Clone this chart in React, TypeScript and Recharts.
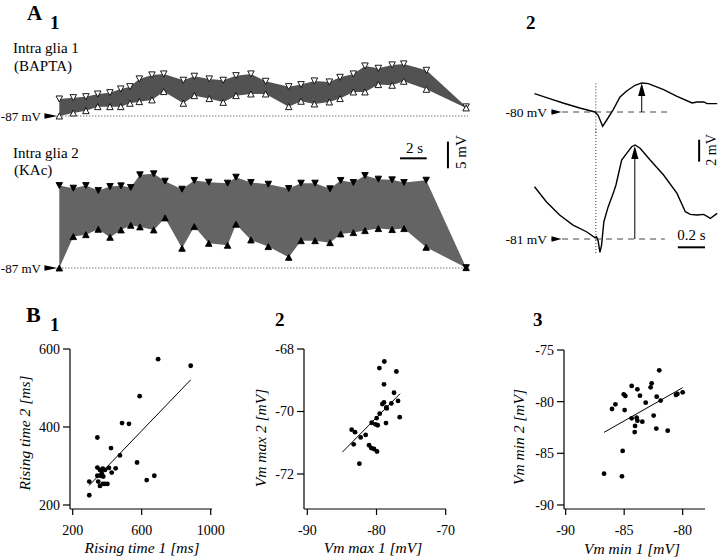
import React from 'react';
import {
  ComposedChart, LineChart, ScatterChart, Area, Line, Scatter,
  XAxis, YAxis, ReferenceLine, ReferenceDot,
} from 'recharts';

const SERIF = '"Liberation Serif", "Times New Roman", Times, serif';

// ---------- Panel A1 : glia 1 (BAPTA), depolarisation above -87 mV, mV vs s ----------
const glia1Time = [0, 1.05, 1.99, 2.88, 3.79, 4.6, 5.29, 5.99, 6.94, 7.82, 9.29, 10.11, 11.23, 12.27, 13.23, 14.35, 15.45, 17.18, 18.1, 19.1, 20.22, 21.02, 22.02, 22.89, 23.89, 24.92, 25.79, 27.49, 30.46];
const glia1Max = [3.19, 3.44, 3.62, 4.12, 4.37, 5.07, 5.5, 6.95, 7.7, 7.88, 6.7, 7.45, 6.95, 6.7, 7.56, 7.88, 6.5, 5.5, 5.88, 6.57, 6.38, 7.25, 7.88, 9.38, 8.94, 9.57, 9.76, 8.56, 1.71];
const glia1Min = [0, 0.56, 1.0, 1.75, 1.75, 1.75, 2.38, 2.69, 3.01, 4.57, 2.38, 3.81, 3.26, 2.56, 3.81, 4.12, 4.12, 1.75, 2.76, 2.25, 2.63, 3.26, 4.5, 4.5, 5.88, 5.75, 6.5, 5.0, 1.51];

// ---------- Panel A1 : glia 2 (KAc) ----------
const glia2Time = [0, 1.05, 1.99, 2.92, 3.8, 4.62, 5.35, 6.04, 7.07, 7.92, 9.19, 10.11, 11.19, 12.6, 13.23, 14.35, 15.65, 17.18, 18.1, 19.15, 20.27, 21.07, 22.02, 22.89, 23.89, 24.92, 25.81, 27.47, 30.46];
const glia2Max = [15.44, 14.95, 15.44, 14.51, 15.26, 15.38, 15.08, 17.45, 17.64, 16.26, 14.76, 16.39, 16.07, 15.89, 17.01, 16.01, 15.69, 14.88, 15.89, 15.89, 14.83, 16.39, 16.01, 17.32, 16.64, 16.51, 16.01, 16.44, 0.07];
const glia2Min = [0, 5.88, 6.25, 7.25, 5.75, 7.13, 8.01, 7.7, 7.13, 9.38, 3.69, 7.75, 4.62, 4.26, 8.2, 5.25, 4.01, 2.0, 5.12, 5.12, 4.75, 6.38, 6.63, 7.0, 7.38, 7.2, 7.38, 3.87, 0.07];

// ---------- Panel A2 : single responses (s, mV relative to rest) ----------
const a2TopTime = [-0.452, -0.341, -0.242, -0.119, -0.007, 0.017, 0.05, 0.079, 0.128, 0.178, 0.227, 0.289, 0.338, 0.387, 0.499, 0.598, 0.709, 0.746, 0.795, 0.82, 0.894];
const a2TopV = [1.67, 1.22, 0.82, 0.36, 0, -0.3, -1.3, -0.75, 0.22, 1.36, 1.91, 2.43, 2.64, 2.58, 2.04, 1.43, 0.82, 0.91, 0.91, 0.76, 0.76];
const a2BotTime = [-0.452, -0.365, -0.267, -0.168, -0.069, -0.007, 0.005, 0.017, 0.03, 0.042, 0.059, 0.091, 0.128, 0.148, 0.165, 0.19, 0.227, 0.264, 0.289, 0.326, 0.4, 0.499, 0.598, 0.659, 0.696, 0.746, 0.795, 0.844, 0.894];
const a2BotV = [4.75, 3.39, 2.18, 1.27, 0.66, 0.12, 0.21, -0.18, -1.21, -0.55, 1.57, 2.94, 4.15, 4.91, 5.82, 7.18, 7.79, 8.39, 8.55, 8.25, 7.18, 5.82, 4.15, 2.48, 2.24, 2.18, 2.24, 1.88, 2.33];

// ---------- Panel B1 : rising times ----------
const riseTime1 = [695, 884, 588, 486, 526, 343, 422, 474, 573, 449, 343, 358, 374, 387, 410, 426, 368, 343, 362, 377, 296, 348, 374, 387, 401, 358, 629, 673, 296];
const riseTime2 = [574, 557, 479, 410, 408, 373, 346, 327, 309, 294, 296, 290, 293, 290, 295, 283, 281, 275, 275, 273, 260, 260, 254, 254, 254, 249, 264, 275, 225];
const riseFit = [{ x: 295, y: 250 }, { x: 884, y: 521 }];

// ---------- Panel B2 : Vm max ----------
const vmMax1 = [-78.87, -79.59, -77.13, -78.92, -77.47, -76.89, -77.86, -78.92, -79.16, -78.58, -78.53, -79.54, -79.98, -76.65, -78.63, -80.7, -80.17, -79.83, -83.59, -83.11, -81.57, -82.29, -83.3, -81.08, -80.75, -80.36, -79.93, -82.48];
const vmMax2 = [-68.4, -68.61, -68.72, -69.13, -69.4, -69.66, -69.74, -69.71, -69.76, -69.87, -69.9, -70.07, -70.21, -70.18, -70.37, -70.36, -70.41, -70.44, -70.58, -70.66, -70.75, -70.83, -71.05, -71.08, -71.17, -71.2, -71.28, -71.67];
const vmMaxFit = [{ x: -84.94, y: -71.3 }, { x: -76.6, y: -69.43 }];

// ---------- Panel B3 : Vm min ----------
const vmMin1 = [-82.0, -82.65, -82.74, -84.36, -83.87, -83.65, -85.04, -84.9, -82.22, -80.57, -80.45, -80.0, -81.88, -83.16, -85.75, -86.04, -84.96, -82.48, -84.36, -83.93, -83.87, -83.45, -84.07, -82.25, -84.1, -81.28, -85.13, -86.72, -85.19];
const vmMin2 = [-76.97, -78.23, -78.61, -78.48, -78.81, -79.42, -79.29, -79.45, -79.52, -79.35, -79.25, -79.1, -79.9, -80.1, -80.26, -80.71, -80.81, -81.35, -81.61, -81.55, -81.84, -81.94, -82.35, -82.61, -82.94, -82.81, -84.77, -86.97, -87.23];
const vmMinFit = [{ x: -86.72, y: -82.97 }, { x: -80.0, y: -78.65 }];

// ---------- shapes ----------
const triPath = (cx: number, cy: number, w: number, h: number, up: boolean) =>
  up
    ? `M${cx - w / 2},${cy + h / 2}L${cx + w / 2},${cy + h / 2}L${cx},${cy - h / 2}Z`
    : `M${cx - w / 2},${cy - h / 2}L${cx + w / 2},${cy - h / 2}L${cx},${cy + h / 2}Z`;

const makeTri = (up: boolean, filled: boolean, w: number, h: number) => (props: any) => {
  const { cx, cy, index } = props;
  const key = `${up ? 'u' : 'd'}${filled ? 'f' : 'o'}${index}`;
  if (cx == null || cy == null) return <g key={key} />;
  return (
    <path key={key} d={triPath(cx, cy, w, h, up)} fill={filled ? '#000' : '#fff'}
      stroke="#000" strokeWidth={0.9} />
  );
};

const openDown = makeTri(false, false, 6.5, 6);
const openUp = makeTri(true, false, 6.5, 6);
const fullDown = makeTri(false, true, 6.5, 6);
const fullUp = makeTri(true, true, 6.5, 6);

const levelArrow = (label: string, len: number, gap: number, fs: number) => (props: any) => {
  const { cx, cy } = props;
  return (
    <g>
      <text x={cx - len - gap} y={cy} dy="0.35em" textAnchor="end" fontFamily={SERIF} fontSize={fs} fill="#000">{label}</text>
      <path d={`M${cx - len},${cy - 2.8}L${cx},${cy}L${cx - len},${cy + 2.8}Z`} fill="#000" />
    </g>
  );
};

const upHead = (props: any) => {
  const { cx, cy } = props;
  return <path d={`M${cx},${cy}L${cx - 3.6},${cy + 13}L${cx + 3.6},${cy + 13}Z`} fill="#000" />;
};

const blackDot = (props: any) => <circle cx={props.cx} cy={props.cy} r={2.4} fill="#000" />;

const noMargin = { top: 0, right: 0, bottom: 0, left: 0 };

// ---------- scatter panel ----------
function ScatterPanel(p: {
  left: number; top: number; plotW: number; plotH: number;
  xs: number[]; ys: number[]; xDomain: [number, number]; yDomain: [number, number];
  xTicks: number[]; yTicks: number[]; fit: { x: number; y: number }[];
}) {
  const yW = 60, xH = 40;
  const data = p.xs.map((x, i) => ({ x, y: p.ys[i] }));
  const tick = { fill: '#000', fontSize: 14, fontFamily: SERIF };
  return (
    <div style={{ position: 'absolute', left: p.left - yW, top: p.top }}>
      <ScatterChart width={p.plotW + yW} height={p.plotH + xH} margin={noMargin}>
        <XAxis type="number" dataKey="x" domain={p.xDomain} ticks={p.xTicks} allowDataOverflow interval={0}
          height={xH} tickSize={6} tickMargin={10} tick={tick}
          axisLine={{ stroke: '#000', strokeWidth: 1.2 }} tickLine={{ stroke: '#000', strokeWidth: 1.2 }} />
        <YAxis type="number" dataKey="y" domain={p.yDomain} ticks={p.yTicks} allowDataOverflow interval={0}
          width={yW} tickSize={7} tickMargin={3} tick={tick}
          axisLine={{ stroke: '#000', strokeWidth: 1.2 }} tickLine={{ stroke: '#000', strokeWidth: 1.2 }} />
        <ReferenceLine segment={p.fit} stroke="#000" strokeWidth={1} ifOverflow="visible" />
        <Scatter data={data} shape={blackDot} isAnimationActive={false} />
      </ScatterChart>
    </div>
  );
}

export default function App() {
  const g1 = glia1Time.map((t, i) => ({ t, hi: glia1Max[i], lo: glia1Min[i], band: [glia1Min[i], glia1Max[i]] }));
  const g2 = glia2Time.map((t, i) => ({ t, hi: glia2Max[i], lo: glia2Min[i], band: [glia2Min[i], glia2Max[i]] }));
  const a2Top = a2TopTime.map((t, i) => ({ t, v: a2TopV[i] }));
  const a2Bot = a2BotTime.map((t, i) => ({ t, v: a2BotV[i] }));

  const a1X: [number, number] = [-4.44, 31.5];

  const txt = (x: number, y: number, s: string, o: any = {}) => (
    <text x={x} y={y} fontFamily={SERIF} fill="#000" {...o}>{s}</text>
  );
  const rot = (x: number, y: number, s: string, o: any = {}) => (
    <text transform={`translate(${x},${y}) rotate(-90)`} textAnchor="middle" fontFamily={SERIF} fill="#000" {...o}>{s}</text>
  );

  return (
    <div style={{ position: 'absolute', left: 0, top: 0, width: 720, height: 560, background: '#fff', overflow: 'hidden', fontFamily: SERIF }}>
      <style>{`.recharts-surface{overflow:visible}`}</style>

      {/* A1 top: glia 1 */}
      <div style={{ position: 'absolute', left: 0, top: 57 }}>
        <ComposedChart width={480} height={69} data={g1} margin={noMargin}>
          <XAxis type="number" dataKey="t" domain={a1X} hide allowDataOverflow />
          <YAxis type="number" domain={[-1.873, 11.049]} hide allowDataOverflow />
          <ReferenceLine segment={[{ x: 0, y: 0 }, { x: 30.6, y: 0 }]} stroke="#000" strokeDasharray="1 2" strokeWidth={0.8} ifOverflow="visible" />
          <Area dataKey="band" type="linear" stroke="none" fill="#525252" fillOpacity={1} isAnimationActive={false} />
          <Line dataKey="hi" type="linear" stroke="none" dot={openDown} activeDot={false} isAnimationActive={false} />
          <Line dataKey="lo" type="linear" stroke="none" dot={openUp} activeDot={false} isAnimationActive={false} />
          <ReferenceDot x={-0.14} y={0} r={0} shape={levelArrow('-87 mV', 13, 3.5, 13)} ifOverflow="visible" />
        </ComposedChart>
      </div>

      {/* A1 bottom: glia 2 */}
      <div style={{ position: 'absolute', left: 0, top: 121 }}>
        <ComposedChart width={480} height={155} data={g2} margin={noMargin}>
          <XAxis type="number" dataKey="t" domain={a1X} hide allowDataOverflow />
          <YAxis type="number" domain={[-1.498, 27.528]} hide allowDataOverflow />
          <ReferenceLine segment={[{ x: 0, y: 0 }, { x: 30.6, y: 0 }]} stroke="#000" strokeDasharray="1 2" strokeWidth={0.8} ifOverflow="visible" />
          <Area dataKey="band" type="linear" stroke="none" fill="#646464" fillOpacity={1} isAnimationActive={false} />
          <Line dataKey="hi" type="linear" stroke="none" dot={fullDown} activeDot={false} isAnimationActive={false} />
          <Line dataKey="lo" type="linear" stroke="none" dot={fullUp} activeDot={false} isAnimationActive={false} />
          <ReferenceDot x={-0.14} y={0} r={0} shape={levelArrow('-87 mV', 13, 3.5, 13)} ifOverflow="visible" />
          {/* scale bars: 2 s and 5 mV */}
          <ReferenceLine segment={[{ x: 25.51, y: 20.54 }, { x: 27.51, y: 20.54 }]} stroke="#000" strokeWidth={2} ifOverflow="visible" />
          <ReferenceLine segment={[{ x: 29.1, y: 18.67 }, { x: 29.1, y: 23.67 }]} stroke="#000" strokeWidth={2} ifOverflow="visible" />
        </ComposedChart>
      </div>

      {/* A2 top trace */}
      <div style={{ position: 'absolute', left: 528, top: 68 }}>
        <LineChart width={190} height={66} data={a2Top} margin={noMargin}>
          <XAxis type="number" dataKey="t" domain={[-0.5, 0.9]} hide allowDataOverflow />
          <YAxis type="number" domain={[-2, 4]} hide allowDataOverflow />
          <ReferenceLine segment={[{ x: 0, y: 2.6 }, { x: 0, y: -2 }]} stroke="#000" strokeDasharray="1 2" strokeWidth={0.8} ifOverflow="visible" />
          <ReferenceLine segment={[{ x: -0.33, y: 0 }, { x: 0.545, y: 0 }]} stroke="#444" strokeDasharray="6 5" strokeWidth={1} ifOverflow="visible" />
          <ReferenceLine segment={[{ x: 0.338, y: 0 }, { x: 0.338, y: 2.0 }]} stroke="#000" strokeWidth={1} ifOverflow="visible" />
          <ReferenceDot x={0.338} y={2.64} r={0} shape={upHead} ifOverflow="visible" />
          <Line dataKey="v" type="linear" stroke="#000" strokeWidth={1.4} dot={false} activeDot={false} isAnimationActive={false} />
          <ReferenceDot x={-0.253} y={0} r={0} shape={levelArrow('-80 mV', 10, 4.5, 13.5)} ifOverflow="visible" />
        </LineChart>
      </div>

      {/* A2 bottom trace */}
      <div style={{ position: 'absolute', left: 528, top: 129 }}>
        <LineChart width={190} height={132} data={a2Bot} margin={noMargin}>
          <XAxis type="number" dataKey="t" domain={[-0.5, 0.9]} hide allowDataOverflow />
          <YAxis type="number" domain={[-2, 10]} hide allowDataOverflow />
          <ReferenceLine segment={[{ x: 0, y: 10 }, { x: 0, y: -1.45 }]} stroke="#000" strokeDasharray="1 2" strokeWidth={0.8} ifOverflow="visible" />
          <ReferenceLine segment={[{ x: -0.33, y: 0 }, { x: 0.508, y: 0 }]} stroke="#444" strokeDasharray="6 5" strokeWidth={1} ifOverflow="visible" />
          <ReferenceLine segment={[{ x: 0.287, y: 0 }, { x: 0.287, y: 7.5 }]} stroke="#000" strokeWidth={1} ifOverflow="visible" />
          <ReferenceDot x={0.287} y={8.45} r={0} shape={upHead} ifOverflow="visible" />
          <Line dataKey="v" type="linear" stroke="#000" strokeWidth={1.4} dot={false} activeDot={false} isAnimationActive={false} />
          <ReferenceDot x={-0.253} y={0} r={0} shape={levelArrow('-81 mV', 10, 4.5, 13.5)} ifOverflow="visible" />
          {/* scale bars: 2 mV and 0.2 s */}
          <ReferenceLine segment={[{ x: 0.761, y: 7.03 }, { x: 0.761, y: 9.03 }]} stroke="#000" strokeWidth={2} ifOverflow="visible" />
          <ReferenceLine segment={[{ x: 0.604, y: -0.755 }, { x: 0.804, y: -0.755 }]} stroke="#000" strokeWidth={2} ifOverflow="visible" />
        </LineChart>
      </div>

      {/* B panels */}
      <ScatterPanel left={70} top={349} plotW={142} plotH={160} xs={riseTime1} ys={riseTime2}
        xDomain={[184.3, 1007.5]} yDomain={[189.7, 600]} xTicks={[200, 600, 1000]} yTicks={[200, 400, 600]} fit={riseFit} />
      <ScatterPanel left={304} top={349} plotW={142} plotH={160} xs={vmMax1} ys={vmMax2}
        xDomain={[-90.48, -69.96]} yDomain={[-73.12, -68]} xTicks={[-90, -80, -70]} yTicks={[-72, -70, -68]} fit={vmMaxFit} />
      <ScatterPanel left={564} top={350} plotW={141} plotH={159} xs={vmMin1} ys={vmMin2}
        xDomain={[-90.145, -78.09]} yDomain={[-90.39, -75]} xTicks={[-90, -85, -80]} yTicks={[-90, -85, -80, -75]} fit={vmMinFit} />

      {/* text overlay */}
      <svg width={720} height={560} style={{ position: 'absolute', left: 0, top: 0, pointerEvents: 'none', overflow: 'visible' }}>
        {txt(27, 20, 'A', { fontSize: 21, fontWeight: 'bold' })}
        {txt(50, 29, '1', { fontSize: 19, fontWeight: 'bold' })}
        {txt(13, 53, 'Intra glia 1', { fontSize: 15 })}
        {txt(14, 70.5, '(BAPTA)', { fontSize: 15 })}
        {txt(13, 158, 'Intra glia 2', { fontSize: 15 })}
        {txt(14, 175, '(KAc)', { fontSize: 15 })}
        {txt(414.5, 153, '2 s', { fontSize: 15, textAnchor: 'middle' })}
        {rot(466, 152, '5 mV', { fontSize: 15 })}
        {txt(526, 29, '2', { fontSize: 19, fontWeight: 'bold' })}
        {rot(716, 150, '2 mV', { fontSize: 14 })}
        {txt(691.5, 240, '0.2 s', { fontSize: 15, textAnchor: 'middle' })}

        {txt(26, 322, 'B', { fontSize: 22, fontWeight: 'bold' })}
        {txt(50, 331, '1', { fontSize: 19, fontWeight: 'bold' })}
        {txt(275, 326, '2', { fontSize: 19, fontWeight: 'bold' })}
        {txt(533, 326, '3', { fontSize: 19, fontWeight: 'bold' })}

        {txt(142, 553, 'Rising time 1 [ms]', { fontSize: 15.5, fontStyle: 'italic', textAnchor: 'middle' })}
        {rot(30, 433, 'Rising time 2 [ms]', { fontSize: 15.5, fontStyle: 'italic' })}
        {txt(373, 553, 'Vm max 1 [mV]', { fontSize: 15.5, fontStyle: 'italic', textAnchor: 'middle' })}
        {rot(266, 438, 'Vm max 2 [mV]', { fontSize: 15.5, fontStyle: 'italic' })}
        {txt(632, 554, 'Vm min 1 [mV]', { fontSize: 15.5, fontStyle: 'italic', textAnchor: 'middle' })}
        {rot(524, 437, 'Vm min 2 [mV]', { fontSize: 15.5, fontStyle: 'italic' })}
      </svg>
    </div>
  );
}
